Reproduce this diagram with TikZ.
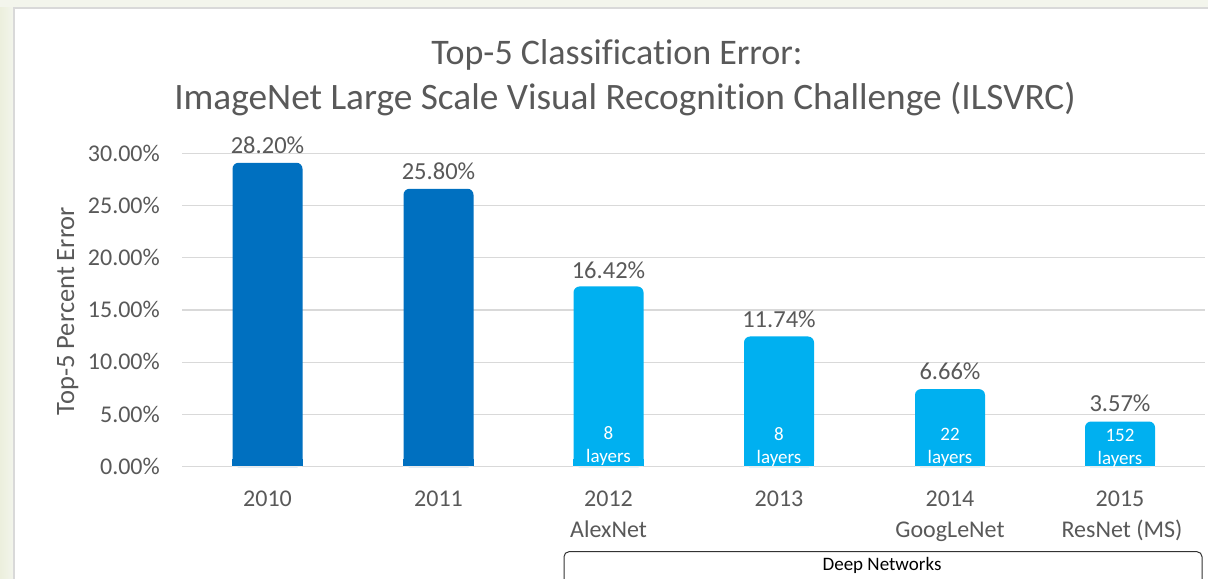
\documentclass[tikz,border=0pt]{standalone}
\usepackage{fontspec}
\setmainfont[Ligatures={NoCommon}]{Carlito}
\definecolor{slidebg}{HTML}{F3F5EC}
\definecolor{slideedge}{HTML}{ECEFDD}
\definecolor{frameline}{HTML}{D9D9D9}
\definecolor{gridline}{HTML}{D9D9D9}
\definecolor{labelgray}{HTML}{595959}
\definecolor{darkbar}{HTML}{0070C0}
\definecolor{lightbar}{HTML}{00B0F0}
\tikzset{
  barbox/.style={minimum width=70bp, inner sep=0pt, rounded corners=6bp, anchor=south, draw=none},
  valuelabel/.style={anchor=base, inner sep=0pt, text=labelgray, font=\fontsize{24.5bp}{28bp}\selectfont},
  ticklabel/.style={anchor=base east, inner sep=0pt, text=labelgray, font=\fontsize{24bp}{28bp}\selectfont},
  yearlabel/.style={anchor=base, inner sep=0pt, text=labelgray, font=\fontsize{24bp}{28bp}\selectfont},
  layerlabel/.style={align=center, inner sep=0pt, text=white, font=\fontsize{19bp}{23bp}\selectfont},
  titletext/.style={anchor=base, inner sep=0pt, text=labelgray},
}
\begin{document}
\begin{tikzpicture}[x=1bp, y=-1bp]
\useasboundingbox (0,0) rectangle (1208,579);
\clip (0,0) rectangle (1208,579);
% slide background and chart frame
\fill[slidebg] (0,0) rectangle (1208,579);
\shade[left color=slideedge, right color=slidebg] (0,8) rectangle (14,579);
\filldraw[fill=white, draw=frameline, line width=1.5bp] (14,8) rectangle (1220,600);

% title
\node[titletext, font=\fontsize{36bp}{42bp}\selectfont] (title1) at (617,64.3) {Top-5 Classification Error:};
\node[titletext, font=\fontsize{37.3bp}{42bp}\selectfont] (title2) at (625,109.3) {ImageNet Large Scale Visual Recognition Challenge (ILSVRC)};

% horizontal grid lines and tick labels
\foreach \v/\lab [count=\i] in {30/30.00\%,25/25.00\%,20/20.00\%,15/15.00\%,10/10.00\%,5/5.00\%} {
  \pgfmathsetmacro{\yy}{466.7-10.44*\v}
  \draw[gridline, line width=1.2bp] (182,\yy) -- (1205,\yy);
  \node[ticklabel] (tick\i) at (160,\yy+7.6) {\lab};
}
\node[ticklabel] (tick0) at (160,466.7+7.6) {0.00\%};

% axis title
\node[rotate=90, anchor=base, inner sep=0pt, text=labelgray, font=\fontsize{26.5bp}{30bp}\selectfont]
  (ytitle) at (74,311) {Top-5 Percent Error};

% bars: rounded top, square bottom
\foreach \name/\cx/\h/\col in {b2010/267.5/304.4/darkbar, b2011/438.5/278.4/darkbar,
    b2012/608.5/180.7/lightbar, b2013/779/130.7/lightbar,
    b2014/950/78.1/lightbar, b2015/1120/45.7/lightbar} {
  \node[barbox, fill=\col, minimum height=\h bp] (\name) at (\cx,467.4) {};
  \fill[\col] (\name.south west) rectangle ([yshift=8bp]\name.south east);
}
% zero line, lightened where it crosses the bars
\draw[gridline, line width=1.2bp] (182,466.7) -- (1205,466.7);
\foreach \name in {b2010,b2011,b2012,b2013,b2014,b2015}
  \draw[white, opacity=0.45, line width=1.4bp] (\name.south west) ++(0,-0.7) -- ++(70,0);

% value labels
\node[valuelabel] (v2010) at (267.5,153.8) {28.20\%};
\node[valuelabel] (v2011) at (438.5,179.8) {25.80\%};
\node[valuelabel] (v2012) at (608.5,278.3) {16.42\%};
\node[valuelabel] (v2013) at (779,327.3) {11.74\%};
\node[valuelabel] (v2014) at (950,379.3) {6.66\%};
\node[valuelabel] (v2015) at (1120,411.3) {3.57\%};

% layer counts inside the deep-network bars
\node[layerlabel] (l2012) at (608.5,446.5) {8\\layers};
\node[layerlabel] (l2013) at (779,447) {8\\layers};
\node[layerlabel] (l2014) at (950,447.5) {22\\layers};
\node[layerlabel] (l2015) at (1120,448) {152\\layers};

% category labels
\node[yearlabel] (y2010) at (267.5,506) {2010};
\node[yearlabel] (y2011) at (438.5,506) {2011};
\node[yearlabel] (y2012) at (608.5,506) {2012};
\node[yearlabel] (y2013) at (779,506) {2013};
\node[yearlabel] (y2014) at (950,506) {2014};
\node[yearlabel] (y2015) at (1120,506) {2015};
\node[yearlabel] (n2012) at (608.5,537.3) {AlexNet};
\node[yearlabel] (n2014) at (950,537.3) {GoogLeNet};
\node[yearlabel] (n2015) at (1122,537.3) {ResNet (MS)};

% bracket box for the deep-network era
\draw[black!80, line width=1bp, rounded corners=5bp] (564,551.7) rectangle (1202,600);
\node[anchor=base, inner sep=0pt, font=\fontsize{19bp}{22bp}\selectfont] (deep) at (882,570) {Deep Networks};
\end{tikzpicture}
\end{document}
